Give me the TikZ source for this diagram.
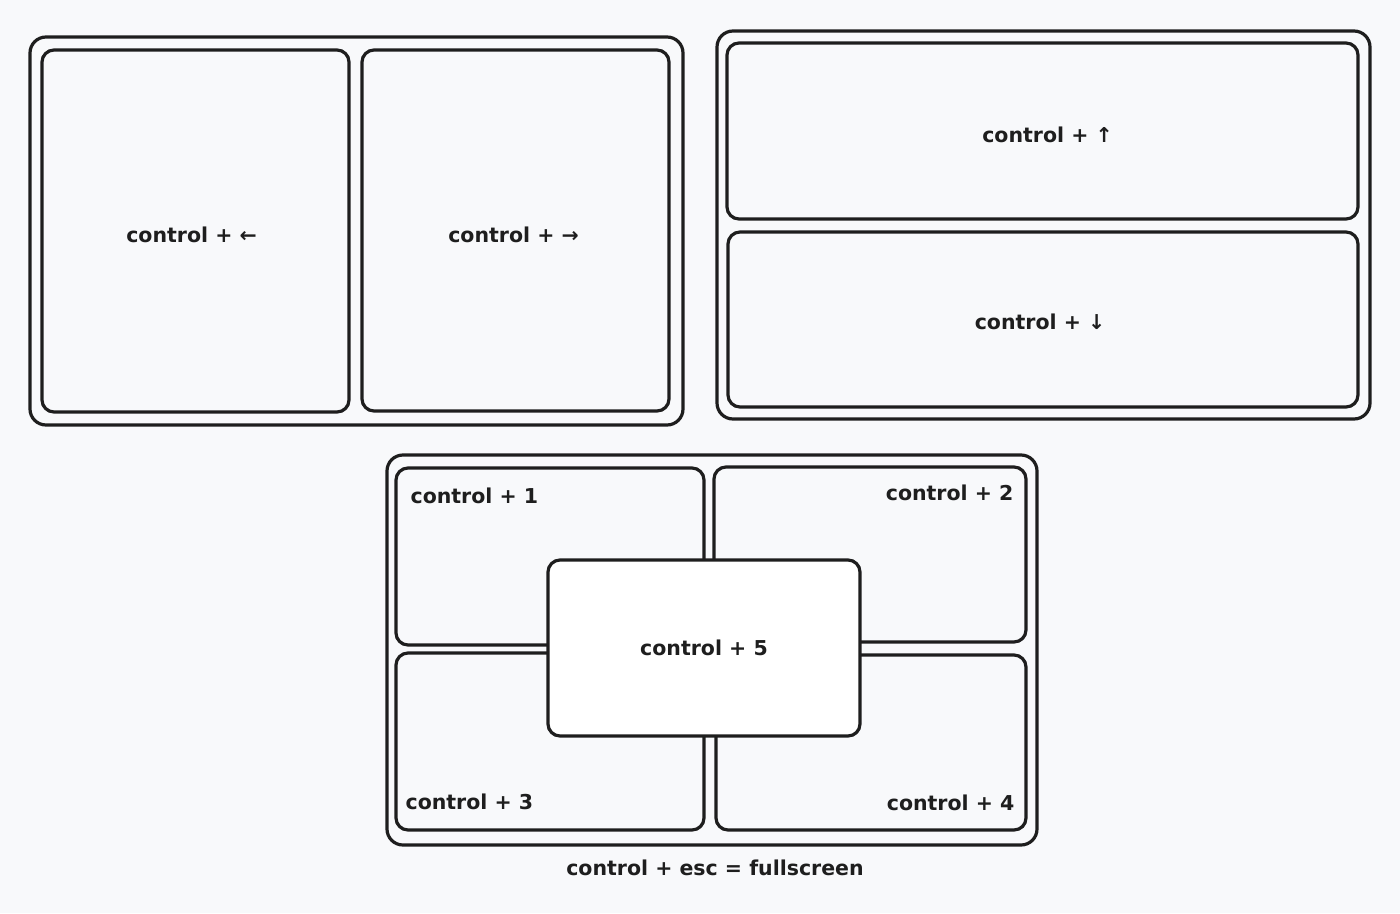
\documentclass[tikz,border=0pt]{standalone}
\usepackage{fontspec}
\setmainfont{DejaVu Sans}
\definecolor{paper}{RGB}{248,249,251}
\definecolor{ink}{RGB}{30,30,30}
\tikzset{every picture/.style={/utils/exec={\bfseries\fontsize{20.5}{24}\selectfont}}}
\usetikzlibrary{positioning}

\begin{document}
\begin{tikzpicture}[x=1pt,y=-1pt,
  pane/.style={draw=ink,text=ink,line width=3.2pt,rounded corners=12pt,fill=paper,inner sep=0pt},
  frame/.style={pane,rounded corners=16pt},
  tag/.style={text=ink,inner sep=0pt}]
  \useasboundingbox[fill=paper] (0,0) rectangle (1400,913);

  % left / right halves
  \node [frame, minimum width=653pt, minimum height=388pt] (p1) at (356.5,231) {};
  \node [pane, minimum width=307pt, minimum height=362pt] (lft) at (195.5,231) {};
  \node [pane, minimum width=307pt, minimum height=361pt] (rgt) at (515.5,230.5) {};
  \node [tag] (lftl) at ([shift={(-4,4)}]lft.center) {control + ←};
  \node [tag] (rgtl) at ([shift={(-2,4)}]rgt.center) {control + →};

  % top / bottom halves
  \node [frame, minimum width=653pt, minimum height=388pt] (p2) at (1043.5,225) {};
  \node [pane, minimum width=631pt, minimum height=176pt] (top) at (1042.5,131) {};
  \node [pane, minimum width=630pt, minimum height=175pt] (bot) at (1043,319.5) {};
  \node [tag] (topl) at ([shift={(5,4)}]top.center) {control + ↑};
  \node [tag] (botl) at ([shift={(-3,2)}]bot.center) {control + ↓};

  % quarters and centre
  \node [frame, minimum width=650pt, minimum height=390pt] (p3) at (712,650) {};
  \node [pane, minimum width=308pt, minimum height=177pt] (q1) at (550,556.5) {};
  \node [pane, minimum width=312pt, minimum height=175pt] (q2) at (870,554.5) {};
  \node [pane, minimum width=308pt, minimum height=177pt] (q3) at (550,741.5) {};
  \node [pane, minimum width=310pt, minimum height=175pt] (q4) at (871,742.5) {};
  \node [pane, fill=white, minimum width=312pt, minimum height=176pt] (q5) at (704,648) {control + 5};

  \node [tag, anchor=west] (q1l) at ([shift={(16,29)}]q1.north west) {control + 1};
  \node [tag, anchor=east] (q2l) at ([shift={(-14,27)}]q2.north east) {control + 2};
  \node [tag, anchor=west] (q3l) at ([shift={(11,-30)}]q3.south west) {control + 3};
  \node [tag, anchor=east] (q4l) at ([shift={(-13,-29)}]q4.south east) {control + 4};

  \node [tag, below=13pt of p3, xshift=3pt] (cap) {control + esc = fullscreen};
\end{tikzpicture}
\end{document}
